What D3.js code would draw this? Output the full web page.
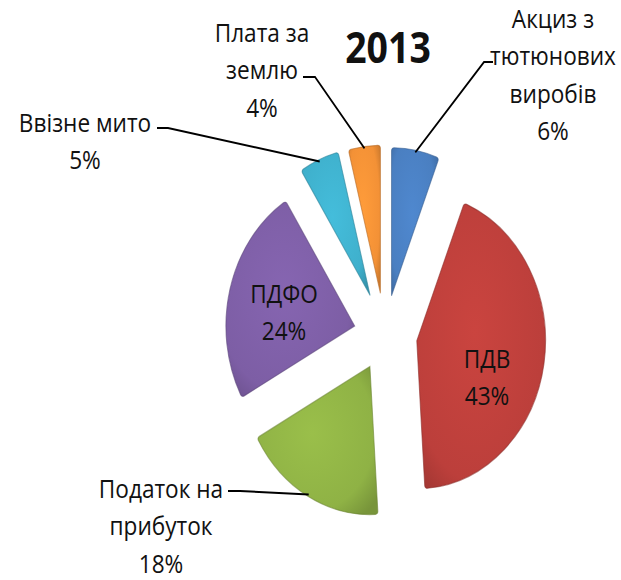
<html>
<meta charset="utf-8">
<script src="https://d3js.org/d3.v7.min.js"></script>
<body style="margin:0;background:#fff">
<div id="chart"></div>
<script>
// data
const categories = ["Акциз з тютюнових виробів", "ПДВ", "Податок на прибуток", "ПДФО", "Ввізне мито", "Плата за землю"]
const values = [6, 43, 18, 24, 5, 4]
const labelLines = [["Акциз з", "тютюнових", "виробів"], ["ПДВ"], ["Податок на", "прибуток"], ["ПДФО"], ["Ввізне мито"], ["Плата за", "землю"]]
const title = "2013"

// look
const colors = ["#4a7fc1", "#bc3f3b", "#8fb245", "#7d5ea5", "#3fb0cc", "#f39136"]
const explode = [40, 37, 36, 36, 43, 42]

let width = 621, height = 580
let sx = 0.87          // the original is squeezed horizontally
let R = 148
let cx = 385 / sx, cy = 335

// label layout (page px): x centre, first baseline, leader tick
let labelPos = [
  {x: 553, y: 28, tick: [493, 484, 62]},
  {x: 487, y: 368},
  {x: 161, y: 498, tick: [228, 240, 491]},
  {x: 284, y: 303},
  {x: 85, y: 132, tick: [157, 168, 128]},
  {x: 262, y: 42, tick: [303, 315, 77]}
]
let lineGap = 37.5

let svg = d3.select("#chart").append("svg")
  .attr("width", width)
  .attr("height", height)

let defs = svg.append("defs")
colors.forEach(function(c, i) {
  let g = defs.append("radialGradient")
    .attr("id", "grad" + i)
    .attr("cx", "45%").attr("cy", "45%").attr("r", "70%")
  g.append("stop").attr("offset", "0%").attr("stop-color", d3.color(c).brighter(0.2))
  g.append("stop").attr("offset", "75%").attr("stop-color", c)
  g.append("stop").attr("offset", "100%").attr("stop-color", d3.color(c).darker(0.5))
})

let root = svg.append("g").attr("transform", "scale(" + sx + ",1)")

let pie = d3.pie().sort(null).value(d => d)
let slices = pie(values)

let arc = d3.arc().innerRadius(0).outerRadius(R).cornerRadius(3)

function offset(d, i) {
  let a = (d.startAngle + d.endAngle) / 2
  return [cx + explode[i] * Math.sin(a), cy - explode[i] * Math.cos(a)]
}

let g = root.selectAll("g.slice")
  .data(slices)
  .enter()
  .append("g")
    .attr("class", "slice")
    .attr("transform", function(d, i) { let o = offset(d, i); return "translate(" + o[0] + "," + o[1] + ")" })

g.append("path")
  .attr("d", arc)
  .attr("fill", (d, i) => "url(#grad" + i + ")")
  .attr("stroke", (d, i) => d3.color(colors[i]).darker(0.8))
  .attr("stroke-width", 1.2)
  .attr("stroke-opacity", 0.6)

// leader lines
slices.forEach(function(d, i) {
  let p = labelPos[i]
  if (!p.tick) return
  let o = offset(d, i)
  let a = (d.startAngle + d.endAngle) / 2
  let end = [o[0] + (R - 2) * Math.sin(a), o[1] - (R - 2) * Math.cos(a)]
  root.append("polyline")
    .attr("points", [[p.tick[0] / sx, p.tick[2]], [p.tick[1] / sx, p.tick[2]], end].map(q => q.join(",")).join(" "))
    .attr("fill", "none")
    .attr("stroke", "#000")
    .attr("stroke-width", 2)
})

// labels
slices.forEach(function(d, i) {
  let p = labelPos[i]
  let lines = labelLines[i].concat([values[i] + "%"])
  let t = root.append("text")
    .attr("text-anchor", "middle")
    .attr("font-family", "Open Sans, sans-serif")
    .attr("font-size", "26px")
    .attr("fill", "#111")
  lines.forEach(function(s, k) {
    t.append("tspan")
      .attr("x", p.x / sx)
      .attr("y", p.y + k * lineGap)
      .text(s)
  })
})

root.append("text")
  .attr("x", 388 / sx)
  .attr("y", 63)
  .attr("text-anchor", "middle")
  .attr("font-family", "Open Sans, sans-serif")
  .attr("font-weight", "bold")
  .attr("font-size", "43px")
  .attr("fill", "#111")
  .text(title)
</script>
</body>
</html>
